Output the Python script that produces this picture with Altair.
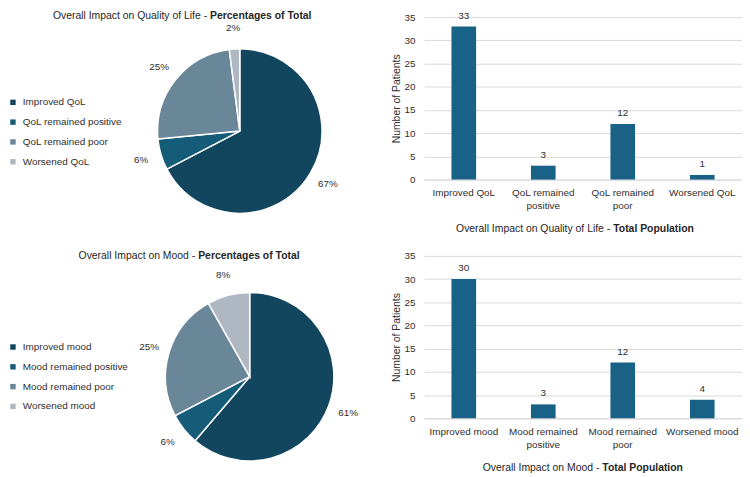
import altair as alt
import pandas as pd

# ---------------- data ----------------
qol_cats = ["Improved QoL", "QoL remained positive", "QoL remained poor", "Worsened QoL"]
qol_counts = [33, 3, 12, 1]
qol_pct = [67, 6, 25, 2]

mood_cats = ["Improved mood", "Mood remained positive", "Mood remained poor", "Worsened mood"]
mood_counts = [30, 3, 12, 4]
mood_pct = [61, 6, 25, 8]

pie_colors = ["#12465f", "#155c79", "#6a8699", "#aeb7c2"]
bar_color = "#196186"
y_ticks = [0, 5, 10, 15, 20, 25, 30, 35]

FONT = "Liberation Sans"
TXT = "#2e2e2e"
TITLE_C = "#262626"

PIE_W = 386
BAR_W = 321
BAR_H = 164


def title_pair(norm, bold, split_x, y):
    d = pd.DataFrame({"a": [norm], "b": [bold]})
    t1 = alt.Chart(d).mark_text(align="right", baseline="middle", font=FONT, fontSize=10.5,
                                color=TITLE_C).encode(
        text="a:N", x=alt.value(split_x - 1), y=alt.value(y))
    t2 = alt.Chart(d).mark_text(align="left", baseline="middle", font=FONT, fontSize=10.5,
                                fontWeight="bold", color=TITLE_C).encode(
        text="b:N", x=alt.value(split_x + 2), y=alt.value(y))
    return [t1, t2]


def pie_panel(key, cats, counts, pct, tnorm, tbold, split_x, title_y, cx, cy, r, legend_y, h):
    f = "cat_" + key
    df = pd.DataFrame({f: cats, "n": counts,
                       "pct": [f"{p}%" for p in pct], "idx": list(range(len(cats)))})
    base = alt.Chart(df).encode(
        theta=alt.Theta("n:Q", stack=True),
        order=alt.Order("idx:Q"),
    )
    arc = base.mark_arc(x=cx, y=cy, radius=r, stroke="white", strokeWidth=1.5).encode(
        color=alt.Color(f + ":N", sort=cats,
                        scale=alt.Scale(domain=cats, range=pie_colors),
                        legend=alt.Legend(title=None, orient="none", legendX=0, legendY=legend_y,
                                          symbolType="square", symbolSize=30, symbolStrokeWidth=0,
                                          labelFont=FONT, labelFontSize=10, labelColor=TXT,
                                          rowPadding=10, labelOffset=5, labelLimit=300))
    )
    lbl = base.mark_text(x=cx, y=cy, radius=r + 21, font=FONT, fontSize=10,
                         color=TXT).encode(text="pct:N")
    layers = [arc, lbl] + title_pair(tnorm, tbold, split_x, title_y)
    return alt.layer(*layers).properties(width=PIE_W, height=h)


def bar_panel(cats, counts, tnorm, tbold, split_x):
    df = pd.DataFrame({"cat": cats, "n": counts})
    x = alt.X("cat:N", sort=cats,
              scale=alt.Scale(paddingInner=0.69, paddingOuter=0.345),
              axis=alt.Axis(title=None, labelAngle=0, tickSize=0, labelPadding=8,
                            domainColor="#d9d9d9", labelFont=FONT, labelFontSize=10,
                            labelColor=TXT, labelLineHeight=13, labelLimit=200,
                            labelExpr="indexof(datum.label, 'remained') >= 0 ? "
                                      "[slice(datum.label, 0, lastindexof(datum.label, ' ')), "
                                      "slice(datum.label, lastindexof(datum.label, ' ') + 1)] : datum.label"))
    y = alt.Y("n:Q", scale=alt.Scale(domain=[0, 35]),
              axis=alt.Axis(title="Number of Patients", values=y_ticks, grid=True,
                            gridColor="#d9d9d9", domain=False, tickSize=0, labelPadding=9,
                            titlePadding=3, labelFont=FONT, labelFontSize=10, labelColor=TXT,
                            titleFont=FONT, titleFontSize=10.5, titleFontWeight="normal",
                            titleColor=TXT))
    bars = alt.Chart(df).mark_bar(color=bar_color).encode(x=x, y=y)
    txt = alt.Chart(df).mark_text(dy=-11, baseline="middle", font=FONT, fontSize=10,
                                  color=TXT).encode(x=x, y=y, text="n:Q")
    layers = [bars, txt] + title_pair(tnorm, tbold, split_x, BAR_H + 50)
    return alt.layer(*layers).properties(width=BAR_W, height=BAR_H)


pie1 = pie_panel("q", qol_cats, qol_counts, qol_pct,
                 "Overall Impact on Quality of Life -", "Percentages of Total",
                 split_x=202, title_y=-1, cx=234, cy=115, r=83, legend_y=81, h=236)
pie2 = pie_panel("m", mood_cats, mood_counts, mood_pct,
                 "Overall Impact on Mood -", "Percentages of Total",
                 split_x=190, title_y=3, cx=244, cy=125, r=85, legend_y=90, h=215)

bar1 = bar_panel(qol_cats, qol_counts,
                 "Overall Impact on Quality of Life -", "Total Population", split_x=189)
bar2 = bar_panel(mood_cats, mood_counts,
                 "Overall Impact on Mood -", "Total Population", split_x=178)

left = alt.vconcat(pie1, pie2, spacing=0).resolve_scale(color="independent")
right = alt.vconcat(bar1, bar2, spacing=16)

chart = (alt.hconcat(left, right, spacing=0)
         .properties(padding=0)
         .configure_view(stroke=None)
         .resolve_scale(color="independent"))

chart.save("out.html", embed_options={"renderer": "svg", "actions": False})
